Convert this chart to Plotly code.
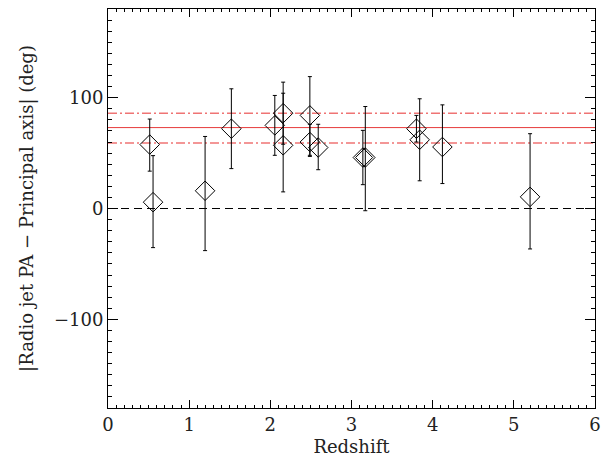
import plotly.graph_objects as go

# Data
redshift = [0.514, 0.555, 1.196, 1.52, 2.055, 2.158, 2.158, 2.487, 2.487, 2.59,
            3.14, 3.17, 3.80, 3.84, 4.12, 5.20]
angle = [57.7, 5.7, 16.0, 72.0, 75.0, 86.0, 57.0, 84.0, 60.0, 55.0,
         46.0, 46.0, 72.0, 62.0, 55.5, 10.5]
err_plus = [23, 42, 49, 36, 27, 28, 47, 35, 16, 21, 24.5, 46, 12, 37, 38, 57]
err_minus = [24, 41, 54, 36, 27, 28, 42, 37, 12, 20, 24.5, 48, 12, 37, 33, 47]

mean_angle = 73.0
mean_upper = 86.0
mean_lower = 59.0
zero_line = 0.0

x_range = [0, 6]
y_range = [-180, 180]
x_ticks = [0, 1, 2, 3, 4, 5, 6]
y_ticks = [-100, 0, 100]
y_tick_text = ["\u2212100", "0", "100"]

FONT = "DejaVu Serif"

fig = go.Figure()

fig.add_trace(go.Scatter(
    x=x_range, y=[zero_line, zero_line], mode="lines",
    line=dict(color="black", width=1, dash="8px,5px"),
    hoverinfo="skip", showlegend=False))
fig.add_trace(go.Scatter(
    x=x_range, y=[mean_angle, mean_angle], mode="lines",
    line=dict(color="#e63b3b", width=1),
    hoverinfo="skip", showlegend=False))
for yv in (mean_upper, mean_lower):
    fig.add_trace(go.Scatter(
        x=x_range, y=[yv, yv], mode="lines",
        line=dict(color="#ef7474", width=1.5, dash="9px,3px,2px,3px"),
        hoverinfo="skip", showlegend=False))

fig.add_trace(go.Scatter(
    x=redshift, y=angle, mode="markers",
    marker=dict(symbol="diamond-open", size=15, color="black",
                line=dict(color="black", width=1)),
    error_y=dict(type="data", symmetric=False, array=err_plus,
                 arrayminus=err_minus, color="black", thickness=1, width=2),
    showlegend=False))

axis_common = dict(
    showgrid=False, zeroline=False, showline=True, linecolor="black",
    linewidth=1, mirror="ticks", ticks="inside", tickcolor="black",
    tickwidth=1, tickfont=dict(family=FONT, size=18, color="#222"),
)

fig.update_xaxes(range=x_range, tickvals=x_ticks, ticklen=8,
                 minor=dict(dtick=0.1, ticks="inside", ticklen=3,
                            tickcolor="black", showgrid=False),
                 title=dict(text="Redshift", font=dict(family=FONT, size=18, color="#222"),
                            standoff=6),
                 **axis_common)
fig.update_yaxes(range=y_range, tickvals=y_ticks, ticktext=y_tick_text, ticklen=10,
                 minor=dict(dtick=10, ticks="inside", ticklen=4,
                            tickcolor="black", showgrid=False),
                 title=dict(text="|Radio jet PA \u2212 Principal axis| (deg)",
                            font=dict(family=FONT, size=18, color="#222"),
                            standoff=15),
                 **axis_common)

fig.update_layout(
    width=611, height=466,
    margin=dict(l=108, r=16, t=9, b=58),
    paper_bgcolor="white", plot_bgcolor="white",
    font=dict(family=FONT, color="#222"),
)

fig.write_html("out.html", config={"displayModeBar": False},
               post_script="document.body.style.margin='0';")
